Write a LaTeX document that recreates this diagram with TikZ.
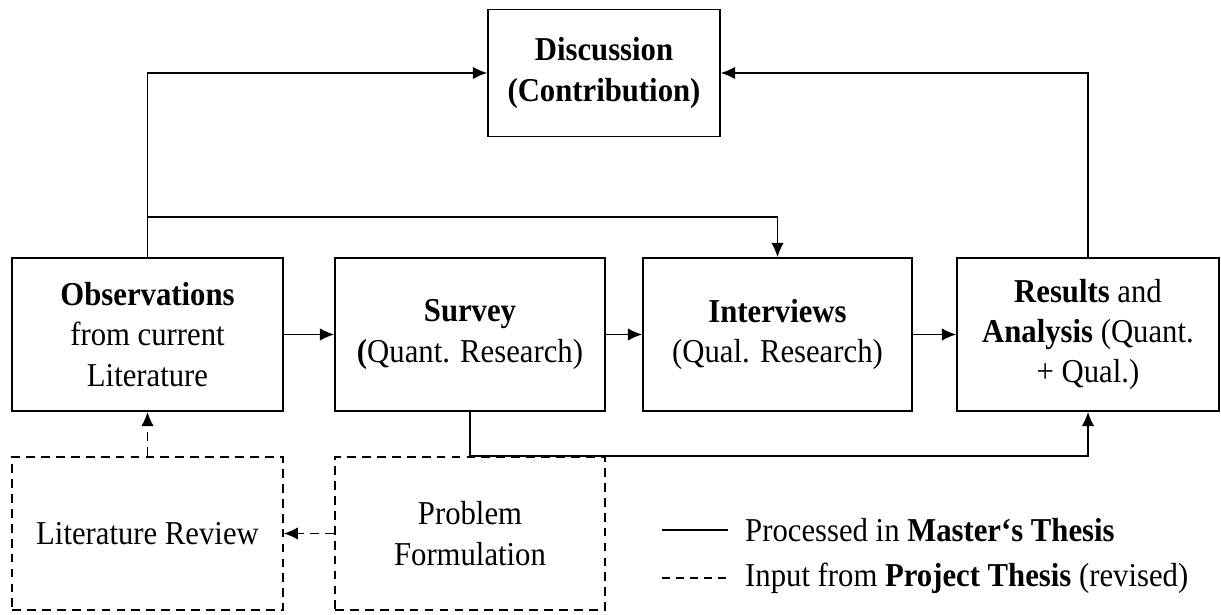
\documentclass[tikz,border=0pt]{standalone}
\usepackage{fontspec}
\setmainfont{Liberation Serif}[FakeStretch=0.92]
\usetikzlibrary{arrows.meta}
\begin{document}
\begin{tikzpicture}[font=\fontsize{19}{23}\selectfont]

  % Definitions
  \tikzstyle{Phase} = [rectangle, minimum width=5.4cm, minimum height=3.06cm, text centered, align=center, draw=black, line width=1.1pt]
  \tikzstyle{Input} = [Phase, line width=0.9pt, dash pattern=on 5pt off 3.5pt]
  \tikzstyle{arrow} = [line width=0.7pt, -{Latex[length=8pt,width=7pt]}]
  \tikzstyle{inputarrow} = [arrow, line width=0.8pt, dash pattern=on 5pt off 3.5pt]
  \tikzstyle{Legend} = [anchor=west]

  \useasboundingbox (-2.95,-5.61) rectangle (21.47,6.69);

  \node (Obs) [Phase, minimum width=5.42cm] {\textbf{Observations}\\from current\\Literature};
  \node (Survey) [Phase, right of=Obs, xshift=5.45cm] {\textbf{Survey}\\\textbf{(}Quant. Research)};
  \node (Interviews) [Phase, right of=Survey, xshift=5.15cm, minimum width=5.38cm] {\textbf{Interviews}\\(Qual. Research)};
  \node (Results) [Phase, right of=Interviews, xshift=5.21cm, minimum width=5.24cm] {\textbf{Results} and\\\textbf{Analysis} (Quant.\\+ Qual.)};
  \node (Discussion) [Phase, above of=Survey, xshift=2.68cm, yshift=4.23cm, minimum width=4.64cm, minimum height=2.54cm] {\textbf{Discussion}\\\textbf{(Contribution)}};
  \node (LitReview) [Input, below of=Obs, yshift=-2.98cm, minimum width=5.42cm] {Literature Review};
  \node (Problem) [Input, below of=Survey, yshift=-2.98cm] {Problem\\Formulation};

  \draw [arrow] (Obs) -- (Survey);
  \draw [arrow] (Survey) -- (Interviews);
  \draw [arrow] (Interviews) -- (Results);
  \draw [arrow] (Obs.north) |- (Discussion.west);
  \draw [arrow] (Results.north) |- (Discussion.east);
  \draw [arrow] (Obs.north) ++(0,0.8) coordinate (Split) -| (Interviews.north);
  \draw [arrow] (Survey.south) -- ++(0,-0.88) -| (Results.south);
  \draw [inputarrow] (LitReview) -- (Obs);
  \draw [inputarrow] (Problem) -- (LitReview);

  % Legend
  \node (Master) [Legend] at (11.83,-3.91) {Processed in \textbf{Master‘s Thesis}};
  \node (Project) [Legend] at (11.83,-4.87) {Input from \textbf{Project Thesis} (revised)};
  \coordinate (MasterL) at (10.29,-3.91);
  \coordinate (ProjectL) at (10.29,-4.87);
  \draw [line width=0.8pt, shorten >=0.22cm] (MasterL) -- (Master.west);
  \draw [line width=0.8pt, dash pattern=on 4.5pt off 3.5pt, shorten >=0.22cm] (ProjectL) -- (Project.west);

\end{tikzpicture}
\end{document}
